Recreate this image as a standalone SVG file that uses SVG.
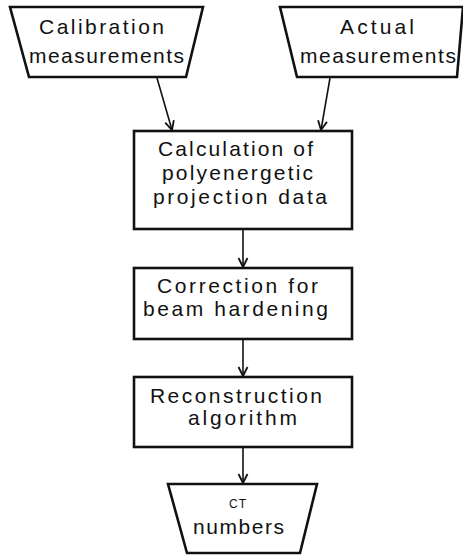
<svg xmlns="http://www.w3.org/2000/svg" width="463" height="555" viewBox="0 0 463 555">
<style>
.box{fill:#fff;stroke:#111;stroke-width:2.6;stroke-linejoin:miter}
.t{font-family:"Liberation Sans",Arial,sans-serif;font-size:21px;fill:#111;text-anchor:start}
.c{fill:none;stroke:#111;stroke-width:1.6}
</style>
<defs>
<marker id="ah" markerWidth="12" markerHeight="12" refX="10" refY="6" orient="auto" markerUnits="userSpaceOnUse">
<path d="M1,1.5 L10,6 L1,10.5" fill="none" stroke="#111" stroke-width="1.8"/>
</marker>
</defs>
<rect width="463" height="555" fill="#fff"/>
<g id="connectors">
<line class="c" x1="157" y1="78" x2="172" y2="130" marker-end="url(#ah)"/>
<line class="c" x1="330" y1="78" x2="321" y2="130" marker-end="url(#ah)"/>
<line class="c" x1="243" y1="230" x2="243" y2="267" marker-end="url(#ah)"/>
<line class="c" x1="243" y1="340" x2="243" y2="376" marker-end="url(#ah)"/>
<line class="c" x1="243" y1="448" x2="243" y2="483" marker-end="url(#ah)"/>
</g>
<g id="calibration">
<polygon class="box" points="10,7 203,7 186,77 29,77"/>
<text class="t" x="39" y="34" textLength="125" lengthAdjust="spacing">Calibration</text>
<text class="t" x="29" y="63" textLength="155" lengthAdjust="spacing">measurements</text>
</g>
<g id="actual">
<polygon class="box" points="280,7 463,7 457,77 297,77"/>
<text class="t" x="340" y="34" textLength="74" lengthAdjust="spacing">Actual</text>
<text class="t" x="300" y="63" textLength="156" lengthAdjust="spacing">measurements</text>
</g>
<g id="calculation">
<rect class="box" x="134" y="131" width="218" height="98"/>
<text class="t" x="158" y="156" textLength="155" lengthAdjust="spacing">Calculation of</text>
<text class="t" x="162" y="180" textLength="151" lengthAdjust="spacing">polyenergetic</text>
<text class="t" x="153" y="204" textLength="174" lengthAdjust="spacing">projection data</text>
</g>
<g id="correction">
<rect class="box" x="134" y="268" width="218" height="71"/>
<text class="t" x="157" y="293" textLength="161" lengthAdjust="spacing">Correction for</text>
<text class="t" x="143" y="316" textLength="185" lengthAdjust="spacing">beam hardening</text>
</g>
<g id="reconstruction">
<rect class="box" x="134" y="377" width="218" height="70"/>
<text class="t" x="150" y="403" textLength="172" lengthAdjust="spacing">Reconstruction</text>
<text class="t" x="188" y="425" textLength="109" lengthAdjust="spacing">algorithm</text>
</g>
<g id="ct-numbers">
<polygon class="box" points="168,484 317,484 300,553 187,553"/>
<text class="t" x="229" y="508" style="font-size:12px" textLength="17" lengthAdjust="spacing">CT</text>
<text class="t" x="193" y="534" textLength="91" lengthAdjust="spacing">numbers</text>
</g>
</svg>
